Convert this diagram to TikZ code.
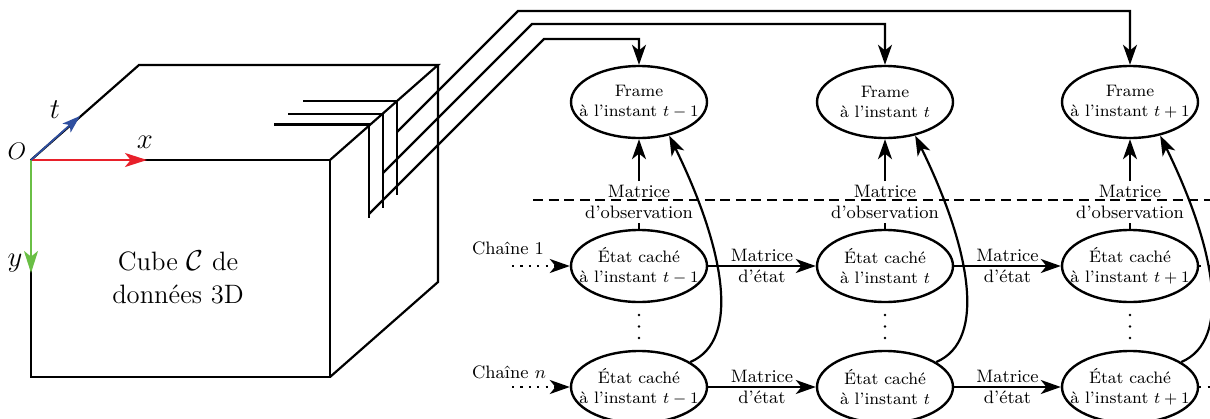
\documentclass[tikz,border=0pt]{standalone}
\usetikzlibrary{arrows.meta,shapes.geometric}
\definecolor{axred}{HTML}{E8202A}
\definecolor{axgreen}{HTML}{6ABF45}
\definecolor{axblue}{HTML}{2F4FA0}
\begin{document}
\begin{tikzpicture}[x=0.5pt,y=-0.5pt,line width=1.1pt,
  arr/.style={-{Stealth[length=10pt,width=7pt,inset=2.8pt]}},
  hid/.style={draw,ellipse,minimum width=68pt,minimum height=36pt,inner sep=0pt,line width=1.2pt},
  etxt/.style={font=\fontsize{8.3}{10}\selectfont,align=center},
  lab/.style={font=\fontsize{9}{10.6}\selectfont,align=center,inner sep=1.5pt},
  ax/.style={font=\fontsize{14}{14}\selectfont},
  dotline/.style={dash pattern=on 1.1pt off 3.1pt}]
\useasboundingbox (0,0) rectangle (1210,418);
% cube
\coordinate (A) at (31,160);
\coordinate (B) at (330,160);
\coordinate (C) at (330,377);
\coordinate (D) at (31,377);
\coordinate (E) at (139,65);
\coordinate (F) at (438,65);
\coordinate (G) at (438,282);
\draw (A) -- (B) -- (C) -- (D) -- cycle;
\draw (A) -- (E) -- (F) -- (B);
\draw (F) -- (G) -- (C);
\node[font=\fontsize{13.3}{16.5}\selectfont,align=center] (cube) at (178,277) {Cube $\mathcal{C}$ de\\données 3D};
% axes
\draw[axred,-{Stealth[length=11pt,width=7pt,inset=2.8pt]}] (A) -- (147,160);
\draw[axgreen,-{Stealth[length=11pt,width=7pt,inset=2.8pt]}] (A) -- (31,273);
\draw[axblue,line width=0.9pt,-{Stealth[length=9pt,width=6pt,inset=2.2pt]}] (A) -- (80,116);
\node[ax] (lx) at (145,142) {$x$};
\node[ax] (ly) at (15,263) {$y$};
\node[ax] (lt) at (55,110) {$t$};
\node[font=\fontsize{12}{12}\selectfont] (lo) at (17,151) {$O$};
% slices
\coordinate (p1) at (369,214);
\coordinate (p2) at (383,173);
\coordinate (p3) at (397,132);
\draw (274,124.5) -- (369,124.5) -- (369,218);
\draw (288,114) -- (383,114) -- (383,208);
\draw (303,101) -- (397,101) -- (397,195);
% frames
\node[hid,label={[etxt]center:{Frame\\à l’instant $t-1$}}] (f1) at (639,102) {};
\node[hid,label={[etxt]center:{Frame\\à l’instant $t$}}] (f2) at (885,102) {};
\node[hid,label={[etxt]center:{Frame\\à l’instant $t+1$}}] (f3) at (1130,102) {};
\draw[arr] (p1) -- ++(175,-175) -| (f1.north);
\draw[arr] (p2) -- ++(149,-149) -| (f2.north);
\draw[arr] (p3) -- ++(121,-121) -| (f3.north);
% hidden states
\node[hid,label={[etxt]center:{État caché\\à l’instant $t-1$}}] (h11) at (639,266) {};
\node[hid,label={[etxt]center:{État caché\\à l’instant $t$}}] (h12) at (885,266) {};
\node[hid,label={[etxt]center:{État caché\\à l’instant $t+1$}}] (h13) at (1130,266) {};
\node[hid,label={[etxt]center:{État caché\\à l’instant $t-1$}}] (hn1) at (639,387) {};
\node[hid,label={[etxt]center:{État caché\\à l’instant $t$}}] (hn2) at (885,387) {};
\node[hid,label={[etxt]center:{État caché\\à l’instant $t+1$}}] (hn3) at (1130,387) {};
% dashed separator
\coordinate (dl) at (533,200);
\coordinate (dr) at (1215,200);
\draw[dash pattern=on 5pt off 2.8pt] (dl) -- (dr);
% observation
\node[lab] (o1) at (639,202) {Matrice\\d’observation};
\node[lab] (o2) at (885,202) {Matrice\\d’observation};
\node[lab] (o3) at (1130,202) {Matrice\\d’observation};
\foreach \i in {1,2,3}{
  \draw (h1\i) -- (o\i);
  \draw[arr] (o\i) -- (f\i);
}
% state transitions
\draw[arr] (h11) -- node[lab] (m1) {Matrice\\d’état} (h12);
\draw[arr] (h12) -- node[lab] (m2) {Matrice\\d’état} (h13);
\draw[arr] (hn1) -- node[lab] (m3) {Matrice\\d’état} (hn2);
\draw[arr] (hn2) -- node[lab] (m4) {Matrice\\d’état} (hn3);
% vertical dots
\foreach \x in {639,885,1130}{
  \foreach \y in {315,326.5,338}{
    \fill (\x,\y) circle[radius=1.4];
  }
}
% chains
\node[lab] (c1) at (508,248) {Chaîne 1};
\node[lab] (cn) at (509,372) {Chaîne $n$};
\coordinate (c1s) at (512,266);
\coordinate (cns) at (512,387);
\draw[arr,dotline] (c1s) -- (h11);
\draw[arr,dotline] (cns) -- (hn1);
\coordinate (r1) at (1216,266);
\coordinate (rn) at (1216,387);
\draw[dotline] (h13) -- (r1);
\draw[dotline] (hn3) -- (rn);
% curves
\foreach \i in {1,2,3}{
  \draw[arr] (hn\i.26) .. controls +(52,-22) and +(54,110) .. (f\i.-48);
}
\end{tikzpicture}
\end{document}
